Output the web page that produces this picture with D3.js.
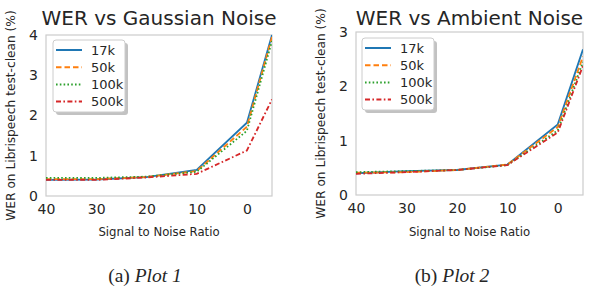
<!DOCTYPE html>
<html>
<head>
<meta charset="utf-8">
<script src="https://cdn.jsdelivr.net/npm/d3@7"></script>
<style>
  body { margin: 0; background: #fff; }
  text { font-family: 'DejaVu Sans', sans-serif; fill: #262626; }
  .caption { font-family: 'Liberation Serif', 'Times New Roman', serif; }
</style>
</head>
<body>
<svg id="chart" width="590" height="287"></svg>
<script>
var snr = [40, 30, 20, 10, 0, -5]
var xTicks = [40, 30, 20, 10, 0]
var seriesNames = ['17k', '50k', '100k', '500k']

var gaussian17k = [0.40, 0.41, 0.47, 0.65, 1.82, 4.0]
var gaussian50k = [0.42, 0.42, 0.47, 0.62, 1.72, 3.95]
var gaussian100k = [0.45, 0.45, 0.48, 0.60, 1.62, 3.85]
var gaussian500k = [0.40, 0.40, 0.46, 0.55, 1.13, 2.40]

var ambient17k = [0.40, 0.44, 0.46, 0.56, 1.30, 2.68]
var ambient50k = [0.41, 0.42, 0.46, 0.56, 1.25, 2.55]
var ambient100k = [0.42, 0.44, 0.46, 0.55, 1.19, 2.45]
var ambient500k = [0.39, 0.42, 0.46, 0.55, 1.15, 2.38]

var colors = ['#1f77b4', '#ff7f0e', '#2ca02c', '#d62728']
var dashes = ['none', '5.5,3', '1.6,2.2', '5,2.4,1.6,2.4']

var svg = d3.select('#chart')

function drawPlot (opt) {
  var x = d3.scaleLinear().domain([40, -5]).range([opt.left, opt.right])
  var y = d3.scaleLinear().domain([0, opt.ymax]).range([opt.bottom, opt.top])
  var g = svg.append('g')

  g.append('rect')
    .attr('x', opt.left).attr('y', opt.top)
    .attr('width', opt.right - opt.left).attr('height', opt.bottom - opt.top)
    .attr('fill', 'none').attr('stroke', '#cccccc').attr('stroke-width', 1.2)

  var xa = g.append('g')
    .attr('transform', 'translate(0,' + opt.bottom + ')')
    .call(d3.axisBottom(x).tickValues(xTicks).tickSize(0).tickPadding(8))
  xa.select('.domain').remove()
  xa.selectAll('text').attr('font-size', 14).attr('dy', '0.71em').attr('fill', '#262626')

  var ya = g.append('g')
    .attr('transform', 'translate(' + opt.left + ',0)')
    .call(d3.axisLeft(y).ticks(opt.ymax).tickFormat(d3.format('d')).tickSize(0).tickPadding(8))
  ya.select('.domain').remove()
  ya.selectAll('text').attr('font-size', 14).attr('fill', '#262626')

  var line = d3.line()
    .x(function (d, i) { return x(snr[i]) })
    .y(function (d) { return y(d) })

  var clipId = 'clip' + opt.left
  g.append('clipPath').attr('id', clipId).append('rect')
    .attr('x', opt.left).attr('y', opt.top - 2)
    .attr('width', opt.right - opt.left).attr('height', opt.bottom - opt.top + 4)

  opt.series.forEach(function (s, i) {
    g.append('path')
      .datum(s)
      .attr('clip-path', 'url(#' + clipId + ')')
      .attr('fill', 'none')
      .attr('stroke', colors[i])
      .attr('stroke-width', 1.8)
      .attr('stroke-dasharray', dashes[i])
      .attr('d', line)
  })

  g.append('text')
    .attr('x', (opt.left + opt.right) / 2).attr('y', 25)
    .attr('text-anchor', 'middle').attr('font-size', 20)
    .text(opt.title)

  g.append('text')
    .attr('x', (opt.left + opt.right) / 2).attr('y', 236)
    .attr('text-anchor', 'middle').attr('font-size', 11.7)
    .text('Signal to Noise Ratio')

  g.append('text')
    .attr('transform', 'translate(' + (opt.left - 31) + ',' + ((opt.top + opt.bottom) / 2) + ') rotate(-90)')
    .attr('text-anchor', 'middle').attr('font-size', 12.2)
    .text('WER on Librispeech test-clean (%)')

  // legend
  var lg = g.append('g').attr('transform', 'translate(' + opt.legX + ',' + opt.legY + ')')
  lg.append('rect')
    .attr('x', 3).attr('y', 3).attr('width', 72).attr('height', 72).attr('rx', 3)
    .attr('fill', '#999999').attr('opacity', 0.6)
  lg.append('rect')
    .attr('width', 72).attr('height', 72).attr('rx', 3)
    .attr('fill', '#ffffff').attr('stroke', '#cccccc').attr('stroke-width', 1)
  seriesNames.forEach(function (name, i) {
    var ry = 10 + i * 17.2
    lg.append('line')
      .attr('x1', 3).attr('x2', 29).attr('y1', ry).attr('y2', ry)
      .attr('stroke', colors[i]).attr('stroke-width', 2)
      .attr('stroke-dasharray', dashes[i])
    lg.append('text')
      .attr('x', 38).attr('y', ry).attr('dy', '0.35em')
      .attr('font-size', 13)
      .text(name)
  })

  svg.append('text')
    .attr('class', 'caption')
    .attr('x', opt.capX).attr('y', 282)
    .attr('text-anchor', 'middle').attr('font-size', 19.5)
    .html('(' + opt.letter + ') <tspan font-style="italic">' + opt.caption + '</tspan>')
}

drawPlot({
  left: 46, right: 272, top: 35, bottom: 196, ymax: 4,
  title: 'WER vs Gaussian Noise',
  series: [gaussian17k, gaussian50k, gaussian100k, gaussian500k],
  legX: 53, legY: 40, capX: 145, letter: 'a', caption: 'Plot 1'
})

drawPlot({
  left: 356, right: 583, top: 32, bottom: 195, ymax: 3,
  title: 'WER vs Ambient Noise',
  series: [ambient17k, ambient50k, ambient100k, ambient500k],
  legX: 362, legY: 38, capX: 452, letter: 'b', caption: 'Plot 2'
})
</script>
</body>
</html>
